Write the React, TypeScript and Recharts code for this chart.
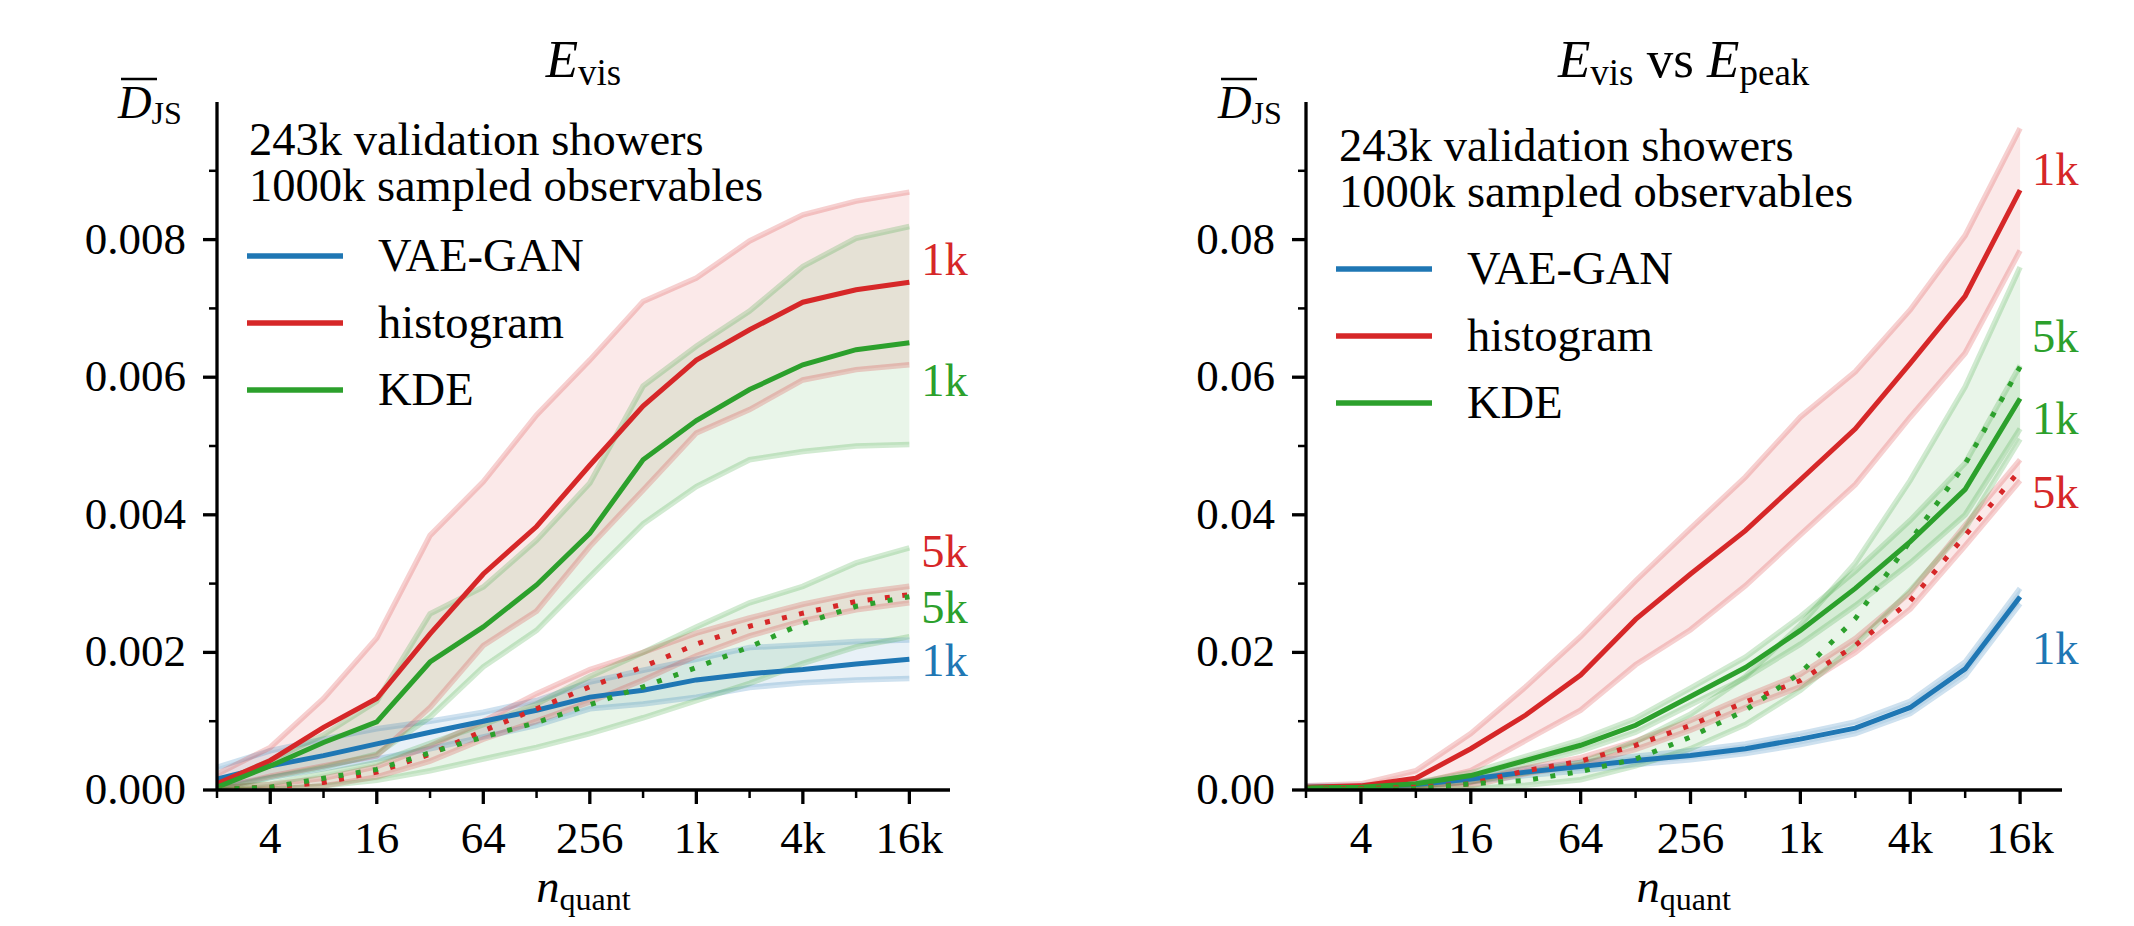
import React from "react";
import { ComposedChart, Area, Line, XAxis, YAxis, ReferenceDot } from "recharts";

// number of quantiles (x), drawn on a log axis
const nQuant = [2, 4, 8, 16, 32, 64, 128, 256, 512, 1024, 2048, 4096, 8192, 16384];
const xMajor = [4, 16, 64, 256, 1024, 4096, 16384];
const xTickLabels = ["4", "16", "64", "256", "1k", "4k", "16k"];

// ---- E_vis panel ----
const evisVae = [0.00016, 0.00035, 0.0005, 0.00067, 0.00084, 0.001, 0.00116, 0.00135, 0.00145, 0.0016, 0.00169, 0.00175, 0.00183, 0.0019];
const evisVaeLo = [0.00004, 0.00018, 0.00031, 0.00045, 0.0006, 0.00077, 0.00094, 0.00118, 0.00125, 0.00135, 0.00149, 0.00156, 0.0016, 0.00162];
const evisVaeHi = [0.00033, 0.00057, 0.00074, 0.00089, 0.001, 0.00113, 0.0013, 0.00157, 0.00174, 0.0019, 0.00207, 0.00211, 0.00216, 0.00218];

const evisHist1k = [0.00009, 0.00043, 0.00091, 0.00133, 0.00227, 0.00314, 0.00383, 0.00472, 0.00558, 0.00625, 0.00669, 0.00709, 0.00727, 0.00738];
const evisHist1kLo = [0.00002, 0.0002, 0.00035, 0.0005, 0.0012, 0.0021, 0.0026, 0.00354, 0.00436, 0.00519, 0.00553, 0.00596, 0.00611, 0.00618];
const evisHist1kHi = [0.00023, 0.00062, 0.00133, 0.00221, 0.0037, 0.00448, 0.00545, 0.00625, 0.0071, 0.00744, 0.00798, 0.00836, 0.00856, 0.00869];

const evisKde1k = [0.00004, 0.00035, 0.00069, 0.00099, 0.00186, 0.00237, 0.00298, 0.00373, 0.0048, 0.00537, 0.00582, 0.00618, 0.0064, 0.0065];
const evisKde1kLo = [0.0, 0.00018, 0.00033, 0.00052, 0.00106, 0.00179, 0.00232, 0.0031, 0.00387, 0.00441, 0.0048, 0.00492, 0.005, 0.00502];
const evisKde1kHi = [0.00008, 0.00043, 0.0008, 0.00129, 0.00256, 0.00295, 0.00363, 0.00446, 0.00587, 0.00645, 0.00696, 0.00761, 0.00802, 0.00819];

const evisHist5k = [0.00001, 0.00004, 0.00011, 0.00026, 0.00052, 0.00086, 0.00118, 0.0015, 0.00179, 0.00212, 0.00238, 0.00257, 0.00274, 0.00284];
const evisHist5kLo = [0.0, 0.00001, 0.00006, 0.00019, 0.00042, 0.00074, 0.001, 0.00128, 0.0016, 0.00195, 0.00224, 0.00246, 0.00262, 0.00272];
const evisHist5kHi = [0.00003, 0.00008, 0.00017, 0.00034, 0.00064, 0.001, 0.0014, 0.00175, 0.002, 0.00228, 0.0025, 0.0027, 0.00286, 0.00296];

const evisKde5k = [0.00001, 0.00004, 0.00017, 0.0003, 0.00054, 0.00077, 0.00098, 0.00124, 0.0015, 0.00178, 0.00208, 0.00242, 0.00267, 0.00281];
const evisKde5kLo = [0.0, 0.00001, 0.00006, 0.00014, 0.00028, 0.00045, 0.00062, 0.00082, 0.00105, 0.0013, 0.00155, 0.00184, 0.00208, 0.00223];
const evisKde5kHi = [0.00003, 0.00009, 0.00024, 0.0004, 0.00068, 0.00095, 0.00125, 0.00165, 0.002, 0.00237, 0.00272, 0.00296, 0.0033, 0.00352];

const evisYTicks = [0, 0.001, 0.002, 0.003, 0.004, 0.005, 0.006, 0.007, 0.008, 0.009];
const evisYLabels = ["0.000", "", "0.002", "", "0.004", "", "0.006", "", "0.008", ""];
const evisEndText = ["1k", "1k", "5k", "5k", "1k"];
const evisEndKey = ["hist1k", "kde1k", "hist5k", "kde5k", "vae"];
const evisEndY = [0.00771, 0.00595, 0.00346, 0.00265, 0.00188];

// ---- E_vis vs E_peak panel ----
const corrVae = [0.0004, 0.0005, 0.0008, 0.0016, 0.0026, 0.0034, 0.0043, 0.005, 0.006, 0.0074, 0.009, 0.012, 0.0176, 0.0281];
const corrVaeLo = [0.0002, 0.0003, 0.0005, 0.0012, 0.0021, 0.0028, 0.0037, 0.0044, 0.0053, 0.0066, 0.0082, 0.0111, 0.0166, 0.0271];
const corrVaeHi = [0.0006, 0.0007, 0.0011, 0.002, 0.0031, 0.004, 0.0049, 0.0057, 0.0067, 0.0082, 0.0099, 0.0129, 0.0186, 0.0293];

const corrHist1k = [0.0004, 0.0006, 0.0017, 0.006, 0.0109, 0.0167, 0.0248, 0.0314, 0.0377, 0.0451, 0.0525, 0.062, 0.0718, 0.0872];
const corrHist1kLo = [0.0001, 0.0003, 0.0009, 0.0028, 0.0072, 0.0116, 0.0182, 0.0233, 0.0297, 0.0371, 0.0444, 0.0542, 0.0635, 0.0784];
const corrHist1kHi = [0.0006, 0.0009, 0.0028, 0.0082, 0.015, 0.0223, 0.0304, 0.038, 0.0455, 0.0542, 0.0608, 0.0698, 0.0806, 0.0962];

const corrKde1k = [0.0003, 0.0004, 0.0009, 0.0021, 0.0043, 0.0065, 0.0094, 0.0136, 0.0178, 0.0232, 0.0293, 0.0361, 0.0437, 0.0569];
const corrKde1kLo = [0.0002, 0.0003, 0.0007, 0.0017, 0.0037, 0.0057, 0.0084, 0.0124, 0.0163, 0.0212, 0.0268, 0.033, 0.04, 0.0525];
const corrKde1kHi = [0.0004, 0.0005, 0.0011, 0.0025, 0.0049, 0.0073, 0.0104, 0.0148, 0.0193, 0.0252, 0.0318, 0.0392, 0.0475, 0.0617];

const corrHist5k = [0.0001, 0.0002, 0.0004, 0.0009, 0.0028, 0.0042, 0.0065, 0.0094, 0.0128, 0.0159, 0.021, 0.0275, 0.037, 0.0465];
const corrHist5kLo = [0.0, 0.0001, 0.0002, 0.0006, 0.0024, 0.0037, 0.0059, 0.0087, 0.012, 0.015, 0.02, 0.0263, 0.0355, 0.045];
const corrHist5kHi = [0.0002, 0.0003, 0.0006, 0.0012, 0.0032, 0.0047, 0.0071, 0.0101, 0.0136, 0.0168, 0.022, 0.0287, 0.0385, 0.048];

const corrKde5k = [0.0001, 0.0001, 0.0002, 0.0009, 0.0014, 0.0027, 0.0045, 0.0077, 0.0116, 0.017, 0.0249, 0.0362, 0.0474, 0.0615];
const corrKde5kLo = [0.0, 0.0, 0.0001, 0.0002, 0.0007, 0.0015, 0.0035, 0.006, 0.0095, 0.0145, 0.021, 0.029, 0.038, 0.051];
const corrKde5kHi = [0.0002, 0.0003, 0.0006, 0.0012, 0.0025, 0.004, 0.007, 0.011, 0.0165, 0.024, 0.033, 0.045, 0.0586, 0.076];

const corrYTicks = [0, 0.01, 0.02, 0.03, 0.04, 0.05, 0.06, 0.07, 0.08, 0.09];
const corrYLabels = ["0.00", "", "0.02", "", "0.04", "", "0.06", "", "0.08", ""];
const corrEndText = ["1k", "5k", "1k", "5k", "1k"];
const corrEndKey = ["hist1k", "kde5k", "kde1k", "hist5k", "vae"];
const corrEndY = [0.0901, 0.0658, 0.0539, 0.0432, 0.0205];

const legendNames = ["VAE-GAN", "histogram", "KDE"];

const BLUE = "#1f77b4";
const RED = "#d62728";
const GREEN = "#2ca02c";
const FONT = "'Liberation Serif', 'DejaVu Serif', serif";
const FS = 45; // tick and end labels
const FS_TXT = 46.5; // annotation and legend

const seriesDefs = [
  { key: "vae", color: BLUE, dotted: false },
  { key: "hist1k", color: RED, dotted: false },
  { key: "kde1k", color: GREEN, dotted: false },
  { key: "hist5k", color: RED, dotted: true },
  { key: "kde5k", color: GREEN, dotted: true },
];
const colorOf: Record<string, string> = { vae: BLUE, hist1k: RED, kde1k: GREEN, hist5k: RED, kde5k: GREEN };

function buildRows(s: Record<string, number[][]>) {
  return nQuant.map((n, i) => {
    const row: any = { n };
    Object.keys(s).forEach((k) => {
      const [mid, lo, hi] = s[k];
      row[k] = mid[i];
      row[k + "Lo"] = lo[i];
      row[k + "Hi"] = hi[i];
      row[k + "Band"] = [lo[i], hi[i]];
    });
    return row;
  });
}

const evisRows = buildRows({
  vae: [evisVae, evisVaeLo, evisVaeHi],
  hist1k: [evisHist1k, evisHist1kLo, evisHist1kHi],
  kde1k: [evisKde1k, evisKde1kLo, evisKde1kHi],
  hist5k: [evisHist5k, evisHist5kLo, evisHist5kHi],
  kde5k: [evisKde5k, evisKde5kLo, evisKde5kHi],
});
const corrRows = buildRows({
  vae: [corrVae, corrVaeLo, corrVaeHi],
  hist1k: [corrHist1k, corrHist1kLo, corrHist1kHi],
  kde1k: [corrKde1k, corrKde1kLo, corrKde1kHi],
  hist5k: [corrHist5k, corrHist5kLo, corrHist5kHi],
  kde5k: [corrKde5k, corrKde5kLo, corrKde5kHi],
});

const XTick = (props: any) => {
  const { x, y, payload } = props;
  const i = xMajor.indexOf(payload.value);
  const major = i >= 0;
  return (
    <g>
      <line x1={x} x2={x} y1={y} y2={y + (major ? 14 : 8)} stroke="#000" strokeWidth={major ? 3.3 : 2.5} />
      {major && (
        <text x={x} y={y + 63} textAnchor="middle" fontFamily={FONT} fontSize={FS} fill="#000">
          {xTickLabels[i]}
        </text>
      )}
    </g>
  );
};

const makeYTick = (ticks: number[], labels: string[]) => (props: any) => {
  const { x, y, payload } = props;
  const i = ticks.findIndex((t) => Math.abs(t - payload.value) < 1e-9);
  const label = i >= 0 ? labels[i] : "";
  const major = label !== "";
  return (
    <g>
      <line x1={x} x2={x - (major ? 14 : 8)} y1={y} y2={y} stroke="#000" strokeWidth={major ? 3.3 : 2.5} />
      {major && (
        <text x={x - 31} y={y + 14} textAnchor="end" fontFamily={FONT} fontSize={FS} fill="#000">
          {label}
        </text>
      )}
    </g>
  );
};

type PanelProps = {
  rows: any[];
  width: number;
  yAxisW: number;
  rightMargin: number;
  yMax: number;
  yTicks: number[];
  yLabels: string[];
  endText: string[];
  endKey: string[];
  endY: number[];
};

function Panel({ rows, width, yAxisW, rightMargin, yMax, yTicks, yLabels, endText, endKey, endY }: PanelProps) {
  return (
    <ComposedChart width={width} height={926} data={rows} margin={{ top: 102, right: rightMargin, bottom: 0, left: 0 }}>
      <XAxis
        dataKey="n"
        type="number"
        scale="log"
        domain={[2, 27800]}
        ticks={nQuant}
        allowDataOverflow
        height={136}
        tickSize={0}
        tickMargin={0}
        tick={<XTick />}
        axisLine={{ stroke: "#000", strokeWidth: 3.3 }}
        tickLine={false}
        interval={0}
      />
      <YAxis
        type="number"
        domain={[0, yMax]}
        ticks={yTicks}
        allowDataOverflow
        width={yAxisW}
        tickSize={0}
        tickMargin={0}
        tick={makeYTick(yTicks, yLabels)}
        axisLine={{ stroke: "#000", strokeWidth: 3.3 }}
        tickLine={false}
        interval={0}
      />
      {seriesDefs.map((s) => (
        <Area
          key={s.key + "band"}
          dataKey={s.key + "Band"}
          type="linear"
          fill={s.color}
          fillOpacity={0.1}
          stroke="none"
          isAnimationActive={false}
          activeDot={false}
        />
      ))}
      {seriesDefs.map((s) =>
        ["Lo", "Hi"].map((e) => (
          <Line
            key={s.key + e}
            dataKey={s.key + e}
            type="linear"
            stroke={s.color}
            strokeOpacity={0.22}
            strokeWidth={5.5}
            dot={false}
            activeDot={false}
            isAnimationActive={false}
          />
        ))
      )}
      {seriesDefs.map((s) => (
        <Line
          key={s.key}
          dataKey={s.key}
          type="linear"
          stroke={s.color}
          strokeWidth={5}
          strokeDasharray={s.dotted ? "5 12.5" : undefined}
          dot={false}
          activeDot={false}
          isAnimationActive={false}
        />
      ))}
      {endText.map((t, i) => (
        <ReferenceDot
          key={"end" + i}
          x={16384}
          y={endY[i]}
          r={0}
          shape={(p: any) => (
            <text x={p.cx + 12} y={p.cy + 15} fontFamily={FONT} fontSize={FS_TXT} fill={colorOf[endKey[i]]}>
              {t}
            </text>
          )}
        />
      ))}
    </ComposedChart>
  );
}

function Overlay({ cx, titleParts, yLabX, annX, annY, legX, legY }: any) {
  const legendColors = [BLUE, RED, GREEN];
  return (
    <g fontFamily={FONT} fill="#000">
      <text x={cx} y={77} textAnchor="middle" fontSize={53}>
        {titleParts}
      </text>
      <line x1={yLabX + 3} x2={yLabX + 39} y1={79} y2={79} stroke="#000" strokeWidth={2.5} />
      <text x={yLabX} y={118} fontSize={FS_TXT}>
        <tspan fontStyle="italic">D</tspan>
        <tspan fontSize={32} dy={6}>JS</tspan>
      </text>
      <text x={annX} y={annY} fontSize={FS_TXT}>243k validation showers</text>
      <text x={annX} y={annY + 46} fontSize={FS_TXT}>1000k sampled observables</text>
      {legendNames.map((name, i) => (
        <g key={name}>
          <line x1={legX} x2={legX + 96} y1={legY + i * 67} y2={legY + i * 67} stroke={legendColors[i]} strokeWidth={5.5} />
          <text x={legX + 131} y={legY + i * 67 + 15} fontSize={FS_TXT}>{name}</text>
        </g>
      ))}
      <text x={cx} y={902} textAnchor="middle" fontSize={FS_TXT}>
        <tspan fontStyle="italic">n</tspan>
        <tspan fontSize={32} dy={8}>quant</tspan>
      </text>
    </g>
  );
}

export default function App() {
  return (
    <div style={{ position: "absolute", left: 0, top: 0, width: 2134, height: 926, background: "#fff", fontFamily: FONT }}>
      <div style={{ position: "absolute", left: 0, top: 0 }}>
        <Panel
          rows={evisRows}
          width={1000}
          yAxisW={217}
          rightMargin={50}
          yMax={0.01}
          yTicks={evisYTicks}
          yLabels={evisYLabels}
          endText={evisEndText}
          endKey={evisEndKey}
          endY={evisEndY}
        />
      </div>
      <div style={{ position: "absolute", left: 1100, top: 0 }}>
        <Panel
          rows={corrRows}
          width={1034}
          yAxisW={206}
          rightMargin={72}
          yMax={0.1}
          yTicks={corrYTicks}
          yLabels={corrYLabels}
          endText={corrEndText}
          endKey={corrEndKey}
          endY={corrEndY}
        />
      </div>
      <svg width={2134} height={926} style={{ position: "absolute", left: 0, top: 0, pointerEvents: "none" }}>
        <Overlay
          cx={583.5}
          titleParts={[
            <tspan key="e" fontStyle="italic">E</tspan>,
            <tspan key="v" fontSize={37} dy={8}>vis</tspan>,
          ]}
          yLabX={118}
          annX={249}
          annY={155}
          legX={247}
          legY={256}
        />
        <Overlay
          cx={1683.6}
          titleParts={[
            <tspan key="e" fontStyle="italic">E</tspan>,
            <tspan key="v" fontSize={37} dy={8}>vis</tspan>,
            <tspan key="vs" fontSize={53} dy={-8}> vs </tspan>,
            <tspan key="e2" fontStyle="italic">E</tspan>,
            <tspan key="p" fontSize={37} dy={8}>peak</tspan>,
          ]}
          yLabX={1218}
          annX={1339}
          annY={161}
          legX={1336}
          legY={269}
        />
      </svg>
    </div>
  );
}
